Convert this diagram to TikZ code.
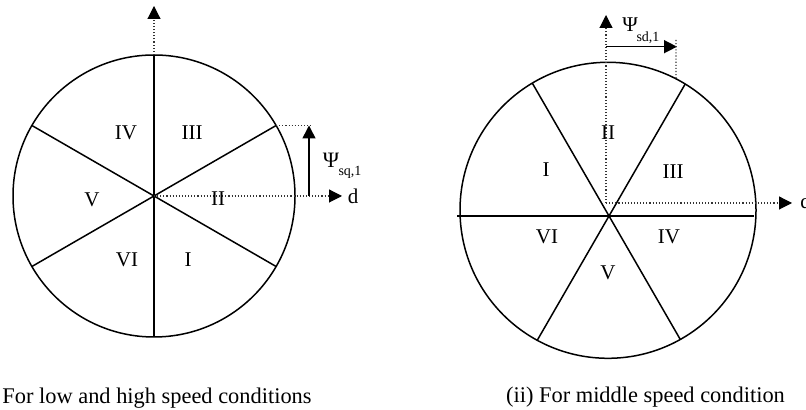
\documentclass[tikz,border=0pt]{standalone}
\usepackage{fontspec}
\setmainfont{Liberation Serif}
\usetikzlibrary{arrows.meta,calc}

\begin{document}
\begin{tikzpicture}[x=0.5pt,y=0.5pt,>={Triangle[length=6.5pt,width=6.5pt,color=black]},font=\fontsize{10.5}{12}\selectfont]
\tikzstyle{seg}=[line width=0.75pt]
\tikzstyle{axis}=[densely dotted,black!80,line width=0.55pt]
\tikzstyle{lab}=[inner sep=0pt]
\useasboundingbox (0,0) rectangle (806,410);
% (i) low and high speed
\coordinate (O1) at (154,214);
\draw[seg] (O1) circle (141);
\foreach \a in {30,90,150} \draw[seg] ($(O1)+(\a:141)$) -- ($(O1)+(\a+180:141)$);
\coordinate (t1) at ($(O1)+(90:141)$);
\coordinate (q1) at (154,404);
\coordinate (d1) at (342,214);
\draw[axis,->] (t1) -- (q1);
\draw[axis,->] (O1) -- (d1);
\coordinate (c1) at ($(O1)+(30:141)$);
\coordinate (e1) at (313,284.5);
\draw[axis] (c1) -- (e1);
\coordinate (pa) at (309,214);
\coordinate (pb) at (309,284.5);
\draw[seg,->] (pa) -- (pb);
\node[lab] (psi1) at (331,250) {\fontsize{11}{13}\selectfont Ψ};
\node[lab,font=\fontsize{7}{8}\selectfont] (sub1) at (350,238) {sq,1};
\node[lab] (dl1) at (353,214) {d};
\foreach \n/\x/\y in {IV/126/277,III/192/277,V/92/210,II/218/211,VI/127/150,I/188/150} \node[lab] (l\n) at (\x,\y) {\n};
\node[lab,anchor=west,font=\fontsize{11.2}{13}\selectfont] (cap1) at (2,12) {For low and high speed conditions};
% (ii) middle speed
\coordinate (O2) at (608,199.7);
\coordinate (P2) at (609,194);
\draw[seg] (O2) circle (148);
\coordinate (h1) at (457,194);
\coordinate (h2) at (754,194);
\draw[seg] (h1) -- (h2);
\draw[seg] ($(P2)+(60:152.4)$) -- ($(P2)+(240:143.5)$);
\draw[seg] ($(P2)+(120:153.4)$) -- ($(P2)+(300:142.5)$);
\coordinate (A2) at (606,207);
\coordinate (q2) at (606,395);
\coordinate (d2) at (792,207);
\draw[axis,->] (A2) -- (q2);
\draw[axis,->] (A2) -- (d2);
\coordinate (pc) at (606,363.3);
\coordinate (pd) at (677,363.3);
\draw[seg,->] (pc) -- (pd);
\coordinate (e2) at (676,370);
\coordinate (c2) at ($(O2)+(62.65:148)$);
\draw[axis] (e2) -- (c2);
\node[lab] (psi2) at (630,385) {\fontsize{10.5}{12}\selectfont Ψ};
\node[lab,font=\fontsize{7}{8}\selectfont] (sub2) at (648,372) {sd,1};
\node[lab,anchor=west] (dl2) at (800,209) {d};
\foreach \n/\x/\y in {II/608/277,I/546/240,III/673/238,VI/547/173,IV/669/173,V/608/137} \node[lab] (r\n) at (\x,\y) {\n};
\node[lab,font=\fontsize{11.2}{13}\selectfont] (cap2) at (645.5,13) {(ii) For middle speed condition};
\end{tikzpicture}
\end{document}
